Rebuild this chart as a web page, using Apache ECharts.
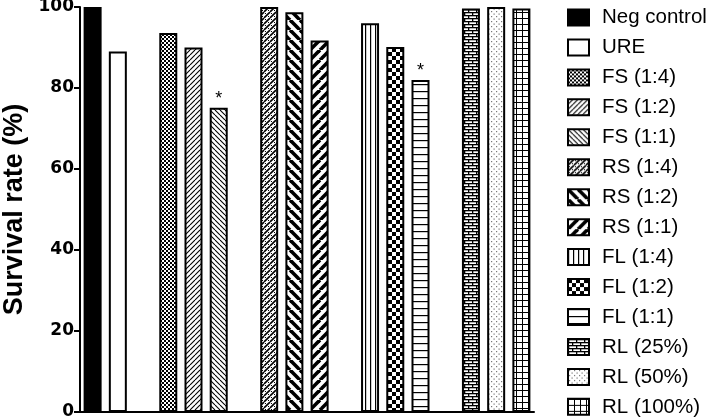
<!DOCTYPE html>
<html>
<head>
<meta charset="utf-8">
<script src="https://cdn.jsdelivr.net/npm/echarts@6/dist/echarts.min.js"></script>
<style>
  html, body { margin: 0; padding: 0; background: #fff; }
  #chart { width: 709px; height: 419px; }
</style>
</head>
<body>
<div id="chart"></div>
<script>
// bar groups, a blank slot sits between each group on the axis
const groups = [
  ['Neg control', 'URE'],
  ['FS (1:4)', 'FS (1:2)', 'FS (1:1)'],
  ['RS (1:4)', 'RS (1:2)', 'RS (1:1)'],
  ['FL (1:4)', 'FL (1:2)', 'FL (1:1)'],
  ['RL (25%)', 'RL (50%)', 'RL (100%)']
];
const survival = [100, 89, 93.6, 90, 75.1, 100, 98.7, 91.7, 96, 90.1, 82, 99.6, 100, 99.6];
const stars = ['', '', '', '', '*', '', '', '', '', '', '*', '', '', ''];
const yTicks = [0, 20, 40, 60, 80, 100];

// fill patterns, one per bar
function pat(w, h, draw) {
  const c = document.createElement('canvas');
  c.width = w; c.height = h;
  const g = c.getContext('2d');
  g.fillStyle = '#fff';
  g.fillRect(0, 0, w, h);
  g.fillStyle = '#000';
  g.strokeStyle = '#000';
  draw(g, w, h);
  return { image: c, repeat: 'repeat' };
}
function diag(g, s, up, lw) {
  g.lineWidth = lw;
  for (let k = -1; k <= 1; k++) {
    g.beginPath();
    if (up) { g.moveTo(k * s, s); g.lineTo(k * s + s, 0); }
    else { g.moveTo(k * s, 0); g.lineTo(k * s + s, s); }
    g.stroke();
  }
}
const fills = [
  '#000',
  '#fff',
  pat(4, 4, g => { g.fillRect(0, 0, 2, 2); g.fillRect(2, 2, 2, 2); }),
  pat(5, 5, g => diag(g, 5, true, 1.1)),
  pat(5, 5, g => diag(g, 5, false, 1.1)),
  pat(6, 6, g => { diag(g, 6, true, 1.6); g.fillRect(1, 1, 1, 1); g.fillRect(4, 4, 1, 1); }),
  pat(10, 10, g => diag(g, 10, false, 3.6)),
  pat(10, 10, g => diag(g, 10, true, 3.6)),
  pat(5, 2, g => g.fillRect(0, 0, 1.2, 2)),
  pat(8, 8, g => { g.fillRect(0, 0, 4, 4); g.fillRect(4, 4, 4, 4); }),
  pat(2, 7, g => g.fillRect(0, 0, 2, 1.2)),
  pat(8, 6, g => { g.fillRect(0, 0, 8, 1.3); g.fillRect(0, 3, 8, 1.3); g.fillRect(0, 0, 1.3, 3); g.fillRect(4, 3, 1.3, 3); }),
  pat(5, 5, g => { g.fillStyle = '#777'; g.fillRect(1, 1, 1.2, 1.2); g.fillRect(3.5, 3.5, 1.2, 1.2); }),
  pat(6, 6, g => { g.fillRect(0, 0, 6, 1); g.fillRect(0, 0, 1, 6); })
];

// axis slots: bars plus a gap slot between groups
const names = [];
const slots = [];
groups.forEach((grp, gi) => {
  grp.forEach(n => { names.push(n); slots.push(n); });
  if (gi < groups.length - 1) slots.push('gap' + gi);
});

const series = names.map((name, i) => {
  const data = slots.map(s => (s === name ? survival[i] : '-'));
  return {
    name: name,
    type: 'bar',
    stack: 'all',
    barWidth: 18,
    data: data,
    itemStyle: { color: fills[i], borderColor: '#000', borderWidth: 2 },
    label: {
      show: stars[i] !== '',
      position: 'top',
      distance: 0,
      formatter: stars[i],
      color: '#000',
      fontFamily: 'Liberation Sans',
      fontSize: 18
    },
    emphasis: { disabled: true }
  };
});

const chart = echarts.init(document.getElementById('chart'));
chart.setOption({
  animation: false,
  grid: { left: 80, right: 175, top: 7, bottom: 7, containLabel: false, outerBoundsMode: 'none' },
  legend: {
    orient: 'vertical',
    left: 567,
    top: 7,
    padding: 0,
    icon: 'rect',
    itemWidth: 21,
    itemHeight: 16,
    itemGap: 8.95,
    selectedMode: false,
    data: names,
    textStyle: {
      color: '#000',
      fontFamily: 'Liberation Sans',
      fontSize: 20.5,
      lineHeight: 20,
      padding: [0, 0, 0, 8]
    }
  },
  xAxis: {
    type: 'category',
    data: slots,
    axisLine: { lineStyle: { color: '#000', width: 2 } },
    axisTick: { alignWithLabel: true, interval: 0, length: 6, lineStyle: { color: '#000', width: 2 } },
    axisLabel: { show: false }
  },
  yAxis: {
    type: 'value',
    min: yTicks[0],
    max: yTicks[yTicks.length - 1],
    interval: yTicks[1] - yTicks[0],
    name: 'Survival rate (%)',
    nameLocation: 'middle',
    nameGap: 52,
    nameTextStyle: { color: '#000', fontFamily: 'Liberation Sans', fontWeight: 'bold', fontSize: 27 },
    axisLine: { show: true, lineStyle: { color: '#000', width: 2 } },
    axisTick: { show: true, length: 6, lineStyle: { color: '#000', width: 2 } },
    axisLabel: { color: '#000', fontFamily: 'DejaVu Sans', fontWeight: 'bold', fontSize: 17, margin: 6 },
    splitLine: { show: false }
  },
  series: series
});
</script>
</body>
</html>
